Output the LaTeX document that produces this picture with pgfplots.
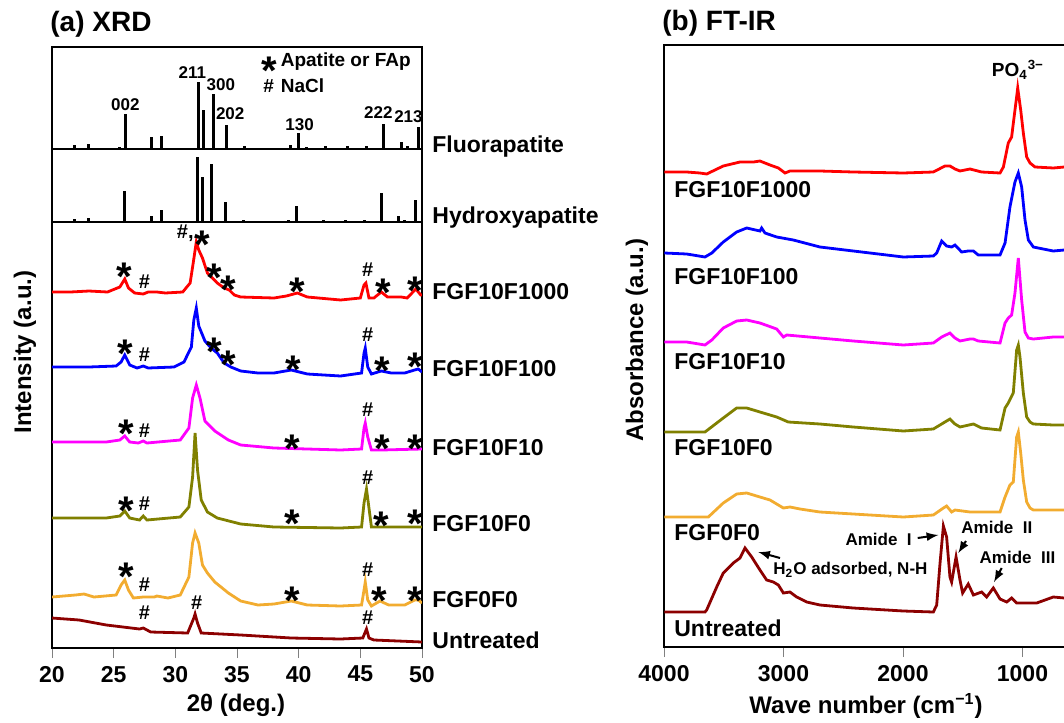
\documentclass[border=0pt]{standalone}
\usepackage{fontspec}
\setmainfont{Liberation Sans}
\usepackage{pgfplots}
\pgfplotsset{compat=1.18}
\definecolor{cRed}{RGB}{255,0,0}
\definecolor{cBlue}{RGB}{0,0,255}
\definecolor{cMag}{RGB}{255,0,255}
\definecolor{cOli}{RGB}{128,128,0}
\definecolor{cOra}{RGB}{242,172,48}
\definecolor{cDrk}{RGB}{140,0,0}
\newcommand\fs[1]{\fontsize{#1}{#1}\selectfont\bfseries}
\tikzset{
  st/.style={font=\fs{20}, anchor=base, inner sep=0pt, yshift=-11.2pt},
  hs/.style={font=\fs{10}, inner sep=0pt},
  lab/.style={font=\fs{8.5}, inner sep=0pt},
  smp/.style={font=\fs{11.5}, inner sep=0pt, anchor=west},
}
\pgfplotsset{
  xrd/.style={scale only axis, width=185pt, xmin=20, xmax=50, ytick=\empty,
    line width=1.4pt, clip mode=individual,
    tick label style={font=\fs{11.5}}, /pgf/number format/assume math mode=true},
  spec/.style={line width=1.4pt},
}
\begin{document}
\begin{tikzpicture}
\useasboundingbox (0,0) rectangle (532pt,-361pt);
\clip (0,0) rectangle (532pt,-361pt);

% ---------- (a) XRD: Fluorapatite reference ----------
\begin{axis}[xrd, at={(26pt,-23.5pt)}, anchor=north west, height=51pt, ymin=0, ymax=102, xtick=\empty]
\addplot[ycomb, line width=1.5pt, black] coordinates {
(21.8,4) (22.96,5) (25.46,2) (25.95,35) (28.1,12) (28.9,13) (31.9,67) (32.3,39)
(33.06,55) (34.18,24) (35.6,3) (39.35,4) (39.97,16) (40.6,2) (42.2,3) (44.0,3)
(45.5,3) (46.9,25) (48.3,7) (48.8,3) (49.7,22)};
\node[lab] at (axis cs:25.95,44) {002};
\node[lab] at (axis cs:31.38,76) {211};
\node[lab] at (axis cs:33.69,64) {300};
\node[lab] at (axis cs:34.45,35) {202};
\node[lab] at (axis cs:40.07,24) {130};
\node[lab] at (axis cs:46.46,36) {222};
\node[lab] at (axis cs:48.9,32) {213};
\node[st] at (axis cs:37.6,87) {*};
\node[font=\fs{9.5}, inner sep=0pt, anchor=west] at (axis cs:38.44,87) {Apatite or FAp};
\node[font=\fs{9.5}, inner sep=0pt] at (axis cs:37.56,63) {\#};
\node[font=\fs{9.5}, inner sep=0pt, anchor=west] at (axis cs:38.44,63) {NaCl};
\end{axis}

% ---------- Hydroxyapatite reference ----------
\begin{axis}[xrd, at={(26pt,-74.5pt)}, anchor=north west, height=36.5pt, ymin=0, ymax=73, xtick=\empty]
\addplot[ycomb, line width=1.5pt, black] coordinates {
(21.8,3) (22.96,4) (25.9,31) (28.1,6) (28.9,12) (31.8,65) (32.2,45) (32.9,58)
(34.1,20) (35.5,2) (39.2,2) (39.8,16) (42.0,2) (43.8,2) (45.3,2) (46.7,29)
(48.1,6) (48.6,2) (49.5,22)};
\end{axis}

% ---------- Samples ----------
\begin{axis}[xrd, at={(26pt,-111pt)}, anchor=north west, height=213pt, ymin=0, ymax=426,
  xtick={20,25,30,35,40,45,50}, xtick pos=bottom, tick align=outside, major tick length=5pt]
\addplot[spec, cRed] coordinates {
(20.0,356) (21.5,356) (23.0,357) (24.5,356) (25.5,361) (25.9,369) (26.2,360) (26.7,355)
(27.4,354) (27.8,356) (28.5,356) (29.2,355) (30.6,356) (31.2,365) (31.45,385) (31.7,406)
(31.9,398) (32.2,390) (32.6,375) (33.0,370) (33.4,365) (33.96,360) (34.37,358) (34.78,353)
(35.3,351) (38.0,350) (39.0,352) (39.9,355) (40.7,351) (43.4,348) (45.0,350) (45.3,363)
(45.45,365) (45.7,350) (46.1,350) (46.7,356) (47.2,351) (48.3,351) (48.8,350) (49.5,359)
(49.9,353) (50,353)};
\addplot[spec, cBlue] coordinates {
(20.0,281) (23.0,281) (25.2,282) (25.6,286) (25.9,293) (26.3,283) (26.9,280) (27.4,282)
(27.8,280) (29.9,281) (30.7,286) (31.3,301) (31.5,328) (31.7,340) (31.9,322) (32.4,307)
(32.9,300) (33.4,295) (33.96,285) (34.5,281) (35.3,277) (36.7,275) (38.0,275) (39.4,278)
(40.7,274) (43.4,272) (45.1,275) (45.3,295) (45.4,300) (45.6,281) (45.9,274) (46.7,277)
(47.5,275) (48.6,275) (49.4,278) (49.7,279) (50,276)};
\addplot[spec, cMag] coordinates {
(20,206) (24.4,206) (25.5,208) (25.9,212) (26.3,206) (27.0,205) (27.4,207) (27.7,205)
(30.4,208) (31.1,220) (31.4,250) (31.7,263) (32.0,250) (32.4,227) (33.2,217) (34.3,208)
(35.3,203) (38.0,200) (43.4,198) (45.1,199) (45.3,220) (45.4,225) (45.6,211) (45.9,198)
(46.7,198) (50,199)};
\addplot[spec, cOli] coordinates {
(20,130) (24.4,130) (25.5,132) (25.9,137) (26.3,130) (27.1,128) (27.4,132) (27.7,128)
(30.4,131) (31.1,141) (31.4,171) (31.6,215) (31.8,178) (32.1,148) (32.6,136) (33.4,130)
(35.3,124) (38.0,121) (43.4,120) (45.1,121) (45.3,145) (45.5,159) (45.7,140) (45.9,121)
(46.7,121) (50,121)};
\addplot[spec, cOra] coordinates {
(20,51) (21.9,53) (22.6,54) (23.4,51) (25.2,53) (25.6,63) (25.9,68) (26.2,58) (26.6,50)
(27.4,51) (28.3,51) (28.5,52) (29.4,50) (30.4,53) (31.1,71) (31.4,105) (31.6,115) (31.9,105)
(32.2,83) (32.6,75) (33.2,66) (34.3,55) (35.3,47) (36.7,43) (38.0,44) (39.4,47) (40.7,43)
(43.4,42) (45.1,43) (45.3,58) (45.4,66) (45.6,48) (45.9,42) (46.6,47) (47.3,43) (48.6,43)
(49.4,48) (49.7,48) (50,45)};
\addplot[spec, cDrk] coordinates {
(20,30) (22.2,28) (24.4,23) (27.1,19) (27.4,20) (28.0,16) (31.0,15) (31.5,30) (31.6,34)
(31.8,25) (32.1,15) (35.3,13) (39.4,10) (43.4,9) (45.2,10) (45.5,19) (45.7,10) (46.1,8) (50,6)};
% red row
\node[st] at (axis cs:25.87,380) {*};
\node[hs] at (axis cs:27.5,366) {\#};
\node[hs, anchor=east] at (axis cs:31.6,415) {\#,};
\node[st] at (axis cs:32.2,412) {*};
\node[st] at (axis cs:33.12,379) {*};
\node[st] at (axis cs:34.3,367) {*};
\node[st] at (axis cs:39.89,365) {*};
\node[hs] at (axis cs:45.59,378) {\#};
\node[st] at (axis cs:46.9,364) {*};
\node[st] at (axis cs:49.42,366) {*};
% blue row
\node[st] at (axis cs:25.95,303) {*};
\node[hs] at (axis cs:27.5,293) {\#};
\node[st] at (axis cs:33.12,305) {*};
\node[st] at (axis cs:34.3,292) {*};
\node[st] at (axis cs:39.56,287) {*};
\node[hs] at (axis cs:45.59,313) {\#};
\node[st] at (axis cs:46.81,286) {*};
\node[st] at (axis cs:49.42,290) {*};
% magenta row
\node[st] at (axis cs:26.03,223) {*};
\node[hs] at (axis cs:27.5,217) {\#};
\node[st] at (axis cs:39.48,208) {*};
\node[hs] at (axis cs:45.59,238) {\#};
\node[st] at (axis cs:46.81,208) {*};
\node[st] at (axis cs:49.42,208) {*};
% olive row
\node[st] at (axis cs:26.03,146) {*};
\node[hs] at (axis cs:27.5,144) {\#};
\node[st] at (axis cs:39.48,133) {*};
\node[hs] at (axis cs:45.59,170) {\#};
\node[st] at (axis cs:46.73,131) {*};
\node[st] at (axis cs:49.42,133) {*};
% orange row
\node[st] at (axis cs:26.03,80) {*};
\node[hs] at (axis cs:27.5,63) {\#};
\node[st] at (axis cs:39.48,56) {*};
\node[hs] at (axis cs:45.59,78) {\#};
\node[st] at (axis cs:46.57,56) {*};
\node[st] at (axis cs:49.42,56) {*};
% untreated
\node[hs] at (axis cs:27.5,35) {\#};
\node[hs] at (axis cs:31.74,45) {\#};
\node[hs] at (axis cs:45.59,30) {\#};
\end{axis}

% ---------- (b) FT-IR ----------
\begin{axis}[scale only axis, at={(332pt,-22.5pt)}, anchor=north west, width=215.1pt, height=301pt,
  x dir=reverse, xmin=400, xmax=4000, ymin=0, ymax=602, ytick=\empty,
  xtick={1000,2000,3000,4000}, xtick pos=bottom, tick align=outside, major tick length=5pt,
  line width=1.4pt, clip mode=individual,
  tick label style={font=\fs{11.5}}, /pgf/number format/assume math mode=true,
  /pgf/number format/1000 sep={}]
\addplot[spec, cRed] coordinates {
(3997,475) (3810,475) (3700,474) (3643,473) (3504,481) (3364,485) (3250,485) (3197,486)
(3113,482) (3043,479) (2987,474) (2946,476) (2695,476) (2416,475) (1997,474) (1746,475)
(1649,481) (1607,481) (1565,478) (1523,476) (1439,478) (1342,475) (1188,474) (1160,480)
(1119,504) (1091,510) (1063,537) (1040,559) (1015,537) (993,514) (965,490) (937,484)
(895,480) (742,479) (650,480)};
\addplot[spec, cBlue] coordinates {
(3997,394) (3810,393) (3657,390) (3600,394) (3504,405) (3392,415) (3308,419) (3197,416)
(3183,419) (3155,414) (3057,410) (2918,407) (2695,400) (2416,396) (1997,390) (1746,391)
(1718,394) (1676,406) (1635,401) (1593,400) (1565,402) (1509,395) (1454,396) (1411,396)
(1370,392) (1188,392) (1146,404) (1105,440) (1063,465) (1035,474) (1007,460) (979,427)
(951,407) (909,400) (742,396) (650,397)};
\addplot[spec, cMag] coordinates {
(3997,305) (3810,305) (3657,302) (3600,307) (3504,319) (3392,326) (3308,327) (3197,324)
(3057,318) (3001,310) (2973,312) (2695,309) (2416,306) (1997,302) (1746,304) (1676,310)
(1607,314) (1565,309) (1523,306) (1439,308) (1411,308) (1370,306) (1188,304) (1146,324)
(1119,329) (1091,332) (1063,354) (1035,389) (1007,347) (979,315) (951,309) (909,308)
(742,310) (650,310)};
\addplot[spec, cOli] coordinates {
(3997,215) (3657,215) (3504,229) (3392,239) (3308,239) (3197,235) (3057,230) (2960,225)
(2695,223) (2416,220) (1997,216) (1746,218) (1649,225) (1607,228) (1565,223) (1523,220)
(1411,223) (1342,219) (1188,217) (1146,239) (1119,244) (1077,254) (1049,297) (1035,302)
(1021,290) (993,254) (965,230) (937,225) (909,223) (742,222) (650,222)};
\addplot[spec, cOra] coordinates {
(3997,130) (3629,130) (3504,144) (3392,153) (3308,154) (3197,150) (3113,147) (3001,139)
(2946,140) (2862,138) (2695,135) (2416,133) (1997,130) (1746,132) (1662,139) (1635,141)
(1593,135) (1565,137) (1439,135) (1188,135) (1146,150) (1105,162) (1077,165) (1049,210)
(1035,215) (1015,194) (993,167) (965,145) (937,139) (909,137) (742,137) (650,137)};
\addplot[spec, cDrk] coordinates {
(3997,35) (3657,35) (3643,37) (3559,60) (3504,74) (3420,84) (3364,89) (3322,99) (3266,90)
(3197,77) (3141,67) (3085,65) (3043,62) (3001,54) (2946,55) (2890,50) (2806,45) (2695,42)
(2416,39) (1997,36) (1746,35) (1718,42) (1690,84) (1662,121) (1635,110) (1607,70) (1593,65)
(1556,90) (1523,67) (1501,54) (1454,63) (1411,52) (1342,55) (1300,50) (1244,59) (1188,48)
(1132,45) (1091,49) (1049,44) (881,44) (742,50) (650,49)};
\node[font=\fs{9.5}, inner sep=0pt] at (axis cs:1038,577) {PO\textsubscript{4}\textsuperscript{3−}};
\node[smp] at (axis cs:3925,457) {FGF10F1000};
\node[smp] at (axis cs:3925,370) {FGF10F100};
\node[smp] at (axis cs:3925,285) {FGF10F10};
\node[smp] at (axis cs:3925,199) {FGF10F0};
\node[smp] at (axis cs:3925,114) {FGF0F0};
\node[smp] at (axis cs:3925,19) {Untreated};
\node[font=\fs{8.5}, inner sep=0pt, anchor=west] at (axis cs:3096,77) {H\textsubscript{2}O adsorbed, N-H};
\draw[-latex, line width=1pt] (axis cs:3029,89) -- (axis cs:3211,95);
\node[font=\fs{8.5}, inner sep=0pt, anchor=east] at (axis cs:1916,108) {Amide~ I};
\draw[-latex, line width=1pt] (axis cs:1877,109) -- (axis cs:1705,112);
\node[font=\fs{8.5}, inner sep=0pt, anchor=west] at (axis cs:1523,120) {Amide~ II};
\draw[-latex, line width=1pt] (axis cs:1473,106) -- (axis cs:1537,94);
\node[font=\fs{8.5}, inner sep=0pt, anchor=west] at (axis cs:1370,90) {Amide~ III};
\draw[-latex, line width=1pt] (axis cs:1174,79) -- (axis cs:1238,65);
\end{axis}

% ---------- free text ----------
\begin{scope}[x=0.5pt, y=-0.5pt]
\node[font=\fs{14}, anchor=west, inner sep=0pt] at (50,24) {(a) XRD};
\node[font=\fs{14}, anchor=west, inner sep=0pt] at (662,23) {(b) FT-IR};
\node[smp] at (432,147) {Fluorapatite};
\node[smp] at (432,218) {Hydroxyapatite};
\node[smp] at (432,292) {FGF10F1000};
\node[smp] at (432,369) {FGF10F100};
\node[smp] at (432,448) {FGF10F10};
\node[smp] at (432,524) {FGF10F0};
\node[smp] at (432,600) {FGF0F0};
\node[smp] at (432,640) {Untreated};
\node[font=\fs{12}, rotate=90, inner sep=0pt] at (25,352) {Intensity (a.u.)};
\node[font=\fs{12}, rotate=90, inner sep=0pt] at (637,340) {Absorbance (a.u.)};
\node[font=\fs{12}, inner sep=0pt] at (236,705) {2θ (deg.)};
\node[font=\fs{12}, inner sep=0pt] at (866,706) {Wave number (cm\textsuperscript{−1})};
\end{scope}
\end{tikzpicture}
\end{document}
